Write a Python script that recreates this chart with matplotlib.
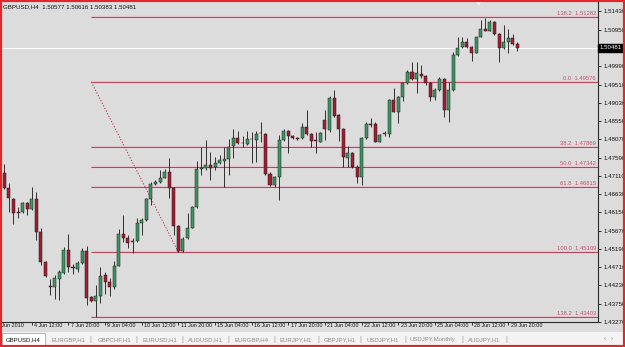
import matplotlib
matplotlib.use('Agg')
import matplotlib.pyplot as plt
from matplotlib.patches import Rectangle, Polygon
import matplotlib.transforms as mtransforms

W, H = 625, 347

# GBPUSD H4 candles, left to right
opens = [1.47185, 1.46790, 1.46501, 1.46160, 1.46168, 1.46383, 1.46238, 1.46493, 1.45642, 1.44853,
         1.44215, 1.44189, 1.44399, 1.44564, 1.45161, 1.44714, 1.44654, 1.44811, 1.45135, 1.43934,
         1.43829, 1.43960, 1.44504, 1.44328, 1.44197, 1.44741, 1.45574, 1.45468, 1.45363, 1.45405,
         1.45863, 1.45949, 1.46493, 1.46896, 1.46935, 1.47066, 1.47203, 1.46782, 1.45779, 1.45125,
         1.45476, 1.45752, 1.46283, 1.47282, 1.47303, 1.47395, 1.47334, 1.47439, 1.47500, 1.47545,
         1.47881, 1.48096, 1.47981, 1.47947, 1.48078, 1.48052, 1.48223, 1.48210, 1.47150, 1.46869,
         1.47072, 1.48052, 1.48288, 1.48157, 1.48104, 1.48096, 1.48386, 1.48210, 1.48039, 1.48007,
         1.48577, 1.48315, 1.49163, 1.48709, 1.48333, 1.47587, 1.47702, 1.47350, 1.47072, 1.48096,
         1.48464, 1.48459, 1.48007, 1.48210, 1.48210, 1.49103, 1.48788, 1.49174, 1.49542, 1.49847,
         1.49647, 1.49786, 1.49734, 1.49558, 1.49174, 1.49366, 1.49647, 1.48840, 1.49366, 1.50286,
         1.50488, 1.50619, 1.50488, 1.50346, 1.50766, 1.50969, 1.50929, 1.51145, 1.50837, 1.50477,
         1.50619, 1.50724, 1.50577]
highs = [1.47421, 1.46922, 1.46528, 1.46291, 1.46422, 1.46422, 1.46804, 1.46685, 1.45731, 1.44872,
         1.44399, 1.44517, 1.44635, 1.45248, 1.45582, 1.44806, 1.44885, 1.45222, 1.45253, 1.43952,
         1.44241, 1.44722, 1.44583, 1.44417, 1.44885, 1.45726, 1.46081, 1.45555, 1.45468, 1.45994,
         1.45994, 1.46528, 1.46956, 1.47001, 1.47263, 1.47282, 1.47571, 1.46817, 1.45818, 1.45490,
         1.46133, 1.46317, 1.47508, 1.47860, 1.48052, 1.47744, 1.47605, 1.47658, 1.47876, 1.48070,
         1.48346, 1.48288, 1.48157, 1.48296, 1.48270, 1.48288, 1.48533, 1.48236, 1.47211, 1.47106,
         1.48183, 1.48333, 1.48315, 1.48183, 1.48131, 1.48506, 1.48840, 1.48236, 1.48270, 1.48270,
         1.48840, 1.49208, 1.49366, 1.48735, 1.48367, 1.47894, 1.47736, 1.47395, 1.48131, 1.48533,
         1.48630, 1.48525, 1.48210, 1.48288, 1.49129, 1.49418, 1.49208, 1.49418, 1.49891, 1.50110,
         1.50110, 1.50023, 1.49760, 1.49576, 1.49410, 1.49715, 1.49673, 1.49584, 1.50372, 1.50751,
         1.50766, 1.50724, 1.50522, 1.50759, 1.51205, 1.51250, 1.51205, 1.51179, 1.50864, 1.51074,
         1.50969, 1.50837, 1.50616]
lows = [1.46764, 1.46160, 1.45844, 1.46002, 1.46141, 1.46081, 1.46212, 1.45424, 1.44754, 1.44452,
        1.43978, 1.43873, 1.43847, 1.44530, 1.44583, 1.44543, 1.44596, 1.44793, 1.43716, 1.43794,
        1.43413, 1.43768, 1.44005, 1.43952, 1.44136, 1.44730, 1.45371, 1.45206, 1.45074, 1.45371,
        1.45555, 1.45923, 1.46344, 1.46869, 1.46909, 1.47045, 1.46520, 1.45555, 1.45109, 1.45115,
        1.45463, 1.45739, 1.46265, 1.47132, 1.47263, 1.47001, 1.47263, 1.47421, 1.46825, 1.47132,
        1.47571, 1.47947, 1.47860, 1.47920, 1.47447, 1.47482, 1.48007, 1.47132, 1.46843, 1.46817,
        1.46475, 1.48025, 1.47718, 1.48078, 1.48052, 1.48078, 1.48183, 1.47868, 1.47702, 1.47986,
        1.48052, 1.48262, 1.48656, 1.48033, 1.47342, 1.47350, 1.47316, 1.46930, 1.46869, 1.48078,
        1.48394, 1.47999, 1.47986, 1.48157, 1.48131, 1.48788, 1.48491, 1.49085, 1.49524, 1.49629,
        1.49295, 1.49681, 1.49497, 1.49085, 1.49103, 1.49340, 1.48664, 1.48533, 1.49340, 1.50259,
        1.50470, 1.50470, 1.50136, 1.50325, 1.50746, 1.50903, 1.50916, 1.50811, 1.50110, 1.50443,
        1.50338, 1.50548, 1.50383]
closes = [1.46790, 1.46528, 1.46141, 1.46133, 1.46396, 1.46238, 1.46493, 1.45642, 1.44853, 1.44478,
          1.44189, 1.44417, 1.44570, 1.45161, 1.44714, 1.44696, 1.44811, 1.45135, 1.43907, 1.43829,
          1.43960, 1.44486, 1.44328, 1.44197, 1.44741, 1.45574, 1.45468, 1.45358, 1.45405, 1.45863,
          1.45949, 1.46493, 1.46896, 1.46948, 1.47066, 1.47203, 1.46782, 1.45779, 1.45125, 1.45463,
          1.45752, 1.46283, 1.47282, 1.47303, 1.47395, 1.47308, 1.47455, 1.47539, 1.47552, 1.47876,
          1.48096, 1.47981, 1.47965, 1.48078, 1.48070, 1.48210, 1.48236, 1.47150, 1.46869, 1.47072,
          1.48052, 1.48288, 1.48157, 1.48096, 1.48091, 1.48386, 1.48210, 1.48033, 1.48025, 1.48228,
          1.48333, 1.49163, 1.48690, 1.48333, 1.47613, 1.47702, 1.47334, 1.47072, 1.48096, 1.48464,
          1.48451, 1.48007, 1.48183, 1.48228, 1.49103, 1.48796, 1.49174, 1.49542, 1.49847, 1.49647,
          1.49805, 1.49734, 1.49558, 1.49174, 1.49366, 1.49647, 1.48840, 1.49366, 1.50286, 1.50462,
          1.50619, 1.50488, 1.50346, 1.50751, 1.50969, 1.50924, 1.51145, 1.50837, 1.50477, 1.50635,
          1.50724, 1.50575, 1.50481]

# time axis: one label every 8 bars, first one falls just left of the chart
time_labels = ['3 Jun 2010', '4 Jun 12:00', '7 Jun 20:00', '9 Jun 04:00', '10 Jun 12:00',
               '11 Jun 20:00', '15 Jun 04:00', '16 Jun 12:00', '17 Jun 20:00', '21 Jun 04:00',
               '22 Jun 12:00', '23 Jun 20:00', '25 Jun 04:00', '28 Jun 12:00', '29 Jun 20:00']
first_label_bar = -2
label_step = 8

price_ticks = [1.43270, 1.43750, 1.44230, 1.44710, 1.45190, 1.45670, 1.46150, 1.46630,
               1.47110, 1.47590, 1.48070, 1.48550, 1.49030, 1.49510, 1.49990, 1.50950, 1.51430]
last_price = 1.50481

# fibonacci retracement
fib_start = (19, 1.49576)
fib_end = (38, 1.45109)
fib_names = ['138.2', '0.0', '38.2', '50.0', '61.8', '100.0', '138.2']
fib_values = [1.51282, 1.49576, 1.47869, 1.47342, 1.46815, 1.45109, 1.43403]

tabs = ['GBPUSD,H4', 'EURGBP,H1', 'GBPCHF,H1', 'EURUSD,H1', 'AUDUSD,H1', 'EURGBP,H4',
        'EURJPY,H1', 'GBPJPY,H1', 'USDJPY,H1', 'USDJPY,Monthly', 'AUDJPY,H1']

BG = '#dcdcdc'
UP = '#3f9563'
DOWN = '#a11d31'
FIB = '#b5394f'

plt.rcParams['font.family'] = ['Liberation Sans', 'DejaVu Sans']

fig = plt.figure(figsize=(W / 100, H / 100), dpi=100)
fig.patch.set_facecolor(BG)


def fx(px):
    return px / W


def fy(py):
    return 1 - py / H


ax = fig.add_axes([fx(2), fy(322), (598 - 2) / W, (322 - 2) / H])
ax.set_facecolor(BG)
ax.set_xlim(-0.5, 129.6)
ax.set_ylim(1.43269, 1.51678)

# fibo levels and the trend line
for name, val in zip(fib_names, fib_values):
    ax.plot([fib_start[0], 129.6], [val, val], color='#e9c3cc', lw=1.7, zorder=1, solid_capstyle='butt')
    ax.plot([fib_start[0], 129.6], [val, val], color=FIB, lw=0.65, zorder=1.1, solid_capstyle='butt')
    ax.annotate(f'{name}  {val:.5f}', xy=(1.0, val), xycoords=('axes fraction', 'data'),
                xytext=(-1.5, 0.8), textcoords='offset points', ha='right', va='bottom',
                fontsize=4.2, color='#c4506c')
ax.plot([fib_start[0], fib_end[0]], [fib_start[1], fib_end[1]], color=FIB, lw=0.75,
        ls=(0, (1.2, 1.6)), zorder=1.2)

# current price line
ax.axhline(last_price, color='white', lw=0.8, zorder=1.5)

# candles
xs = list(range(len(opens)))
ax.vlines(xs, lows, highs, color='#151515', lw=0.6, zorder=2)
for i in xs:
    o, c = opens[i], closes[i]
    col = UP if c >= o else DOWN
    ax.bar(i, max(abs(c - o), 0.00001), bottom=min(o, c), width=0.66, color=col,
           edgecolor='#1c1c1c', linewidth=0.35, zorder=3)

# axes look
for s in ['left', 'top']:
    ax.spines[s].set_visible(False)
for s in ['right', 'bottom']:
    ax.spines[s].set_color('#2a2a2a')
    ax.spines[s].set_linewidth(0.8)

ax.yaxis.tick_right()
ax.set_yticks(price_ticks)
ax.set_yticklabels([f'{p:.5f}' for p in price_ticks])
ax.tick_params(axis='y', length=2.5, width=0.6, pad=1.2, labelsize=4.4, colors='#111111')

label_bars = [first_label_bar + label_step * j for j in range(len(time_labels))]
ax.set_xticks(label_bars[1:])
ax.set_xticklabels([])
ax.tick_params(axis='x', length=2.5, width=0.6, colors='#111111')
xtr = mtransforms.blended_transform_factory(ax.transData, ax.transAxes)
for b, lab in zip(label_bars, time_labels):
    ax.text(b + 0.5, -0.011, lab, transform=xtr, ha='left', va='center', fontsize=3.9,
            color='#111111', clip_on=False)

ax.annotate(f'{last_price:.5f}', xy=(1.0, last_price), xycoords=('axes fraction', 'data'),
            xytext=(1.3, 0), textcoords='offset points', ha='left', va='center', fontsize=4.4,
            color='white', bbox=dict(boxstyle='square,pad=0.25', fc='black', ec='black'))

# chart shift marker
ax.add_patch(Polygon([[0.795, 1.0], [0.805, 1.0], [0.80, 0.991]], closed=True,
                     transform=ax.transAxes, fc='white', ec='none', clip_on=False))

fig.text(fx(3), fy(6.8), 'GBPUSD,H4  1.50577 1.50616 1.50383 1.50481', fontsize=4.4,
         color='#111111', va='center', ha='left')

# tab bar
fig.patches.append(Rectangle((fx(0), fy(346)), 1, (346 - 332) / H, transform=fig.transFigure,
                             fc='#f3f3f3', ec='none'))
fig.patches.append(Rectangle((fx(2), fy(345)), (45 - 2) / W, (345 - 333) / H,
                             transform=fig.transFigure, fc='white', ec='#9a9a9a', lw=0.5))
tab_x = [6, 51.7, 97.3, 142.7, 188.3, 234.3, 279.3, 323.3, 366.7, 410, 467.7]
sep_x = [45, 90.7, 136.7, 182.7, 228.3, 274, 318.3, 360.7, 405, 462.3, 506.7]
for t, x0 in zip(tabs, tab_x):
    fig.text(fx(x0), fy(339.5), t, fontsize=4.3, va='center', ha='left',
             color='#111111' if t == tabs[0] else '#8a8a8a')
for x0 in sep_x[1:]:
    fig.text(fx(x0), fy(339.5), '|', fontsize=5, va='center', ha='center', color='#9a9a9a')
fig.text(fx(605), fy(339.5), '\u2039', fontsize=5, va='center', ha='center', color='#9a9a9a')
fig.text(fx(612), fy(339.5), '\u203a', fontsize=5, va='center', ha='center', color='#9a9a9a')

# red window frame
fig.patches.append(Rectangle((0, 0), 1, 1, transform=fig.transFigure, fill=False,
                             ec='#e3262b', lw=3))

fig.savefig('out.png', dpi=100, facecolor=BG)
